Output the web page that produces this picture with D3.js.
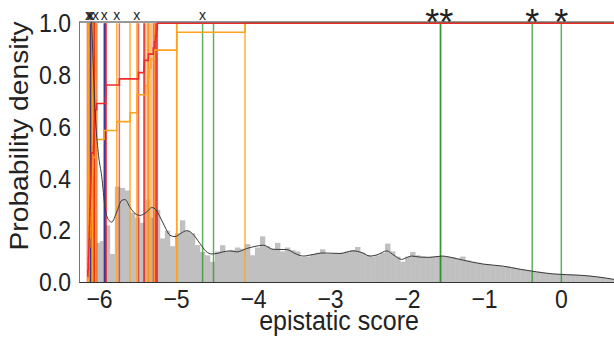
<!DOCTYPE html>
<html>
<head>
<meta charset="utf-8">
<script src="https://cdn.jsdelivr.net/npm/d3@7"></script>
<style>
  body { margin: 0; background: #fff; }
  svg { display: block; }
  text { font-family: "Liberation Sans", Arial, sans-serif; }
</style>
</head>
<body>
<div id="chart"></div>
<script>
// histogram of all epistatic scores (bin heights)
var binStart = -6.25;
var binWidth = 0.065;
var histHeights = [
  0, 0, 1.25, 0.153, 0.16, 0.22, 0.11, 0.37, 0.365, 0.355,
  0.27, 0.25, 0.23, 0.32, 0.25, 0.28, 0.17, 0.2, 0.14, 0.19,
  0.24, 0.2, 0.19, 0.144, 0.118, 0.105, 0.08, 0.12, 0.144, 0.12,
  0.125, 0.135, 0.13, 0.148, 0.105, 0.135, 0.178, 0.14, 0.13, 0.153,
  0.12, 0.135, 0.125, 0.12, 0.098, 0.1, 0.11, 0.115, 0.128, 0.11,
  0.112, 0.113, 0.115, 0.12, 0.125, 0.137, 0.115, 0.105, 0.1, 0.105,
  0.115, 0.15, 0.12, 0.1, 0.08, 0.1, 0.118, 0.105, 0.1, 0.098,
  0.1, 0.102, 0.102, 0.1, 0.097, 0.093, 0.1, 0.085, 0.08, 0.076,
  0.072, 0.07, 0.067, 0.065, 0.063, 0.062, 0.058, 0.053, 0.05, 0.047,
  0.043, 0.041, 0.038, 0.036, 0.034, 0.033, 0.032, 0.031, 0.03, 0.029,
  0.028, 0.027, 0.025, 0.022, 0.019, 0.016, 0.013
];

// density curve
var kdeX = [-6.136, -6.104, -6.078, -6.043, -6.006, -5.965, -5.922, -5.879, -5.835, -5.77,
  -5.705, -5.662, -5.597, -5.532, -5.468, -5.381, -5.316, -5.273, -5.208, -5.143,
  -5.078, -5.013, -4.935, -4.861, -4.792, -4.688, -4.61, -4.536, -4.468, -4.39,
  -4.299, -4.212, -4.082, -3.961, -3.866, -3.74, -3.562, -3.455, -3.351, -3.221,
  -3.087, -2.87, -2.701, -2.584, -2.481, -2.377, -2.264, -2.169, -2.069, -2.013,
  -1.939, -1.831, -1.701, -1.549, -1.416, -1.269, -1.009, -0.749, -0.532, -0.316,
  -0.1, 0.247, 0.464, 0.688];
var kdeY = [1.6, 1.1, 0.86, 0.62, 0.49, 0.41, 0.29, 0.243, 0.233, 0.272,
  0.317, 0.32, 0.29, 0.266, 0.259, 0.272, 0.289, 0.285, 0.253, 0.214,
  0.182, 0.177, 0.19, 0.2, 0.19, 0.15, 0.12, 0.11, 0.112, 0.118,
  0.122, 0.118, 0.131, 0.14, 0.144, 0.128, 0.127, 0.112, 0.102, 0.108,
  0.114, 0.112, 0.122, 0.115, 0.102, 0.108, 0.122, 0.105, 0.089, 0.095,
  0.102, 0.098, 0.097, 0.102, 0.096, 0.086, 0.071, 0.063, 0.051, 0.041,
  0.033, 0.028, 0.022, 0.012];

// scores of the highlighted groups
var redScores = [-6.15, -6.145, -6.14, -6.138, -6.135, -6.132, -6.13, -6.127, -6.125, -6.122,
  -6.12, -6.118, -6.115, -6.113, -6.11, -6.108, -6.106, -6.104, -6.102, -6.1, -6.098,
  -6.071, -6.068, -6.065, -6.062, -6.058, -6.056, -6.052,
  -6.03, -5.916, -5.912, -5.909, -5.736, -5.487, -5.416, -5.412, -5.36,
  -5.295, -5.279, -5.266, -5.253, -5.243];
var orangeScores = [-6.148, -6.14, -6.133, -6.128, -6.121, -6.116, -6.112, -6.107, -6.103, -6.099,
  -6.094, -6.09, -6.085, -6.081, -6.045, -6.043, -5.935, -5.77, -5.597, -5.506, -5.504,
  -5.394, -5.368, -5.351, -5.325, -5.282, -4.991, -4.989, -4.104];
var blueScores = [-6.11, -5.929];
var greenScores = [-4.655, -4.513, -1.568, -1.562, -0.374, 0.004];

var crossMarks = [-6.138, -6.122, -6.104, -6.045, -5.931, -5.77, -5.51, -4.655];
var starMarks = [-1.58, -0.374, 0.004];
var starLabels = ["**", "*", "*"];

var xTicks = [-6, -5, -4, -3, -2, -1, 0];
var yTicks = [0, 0.2, 0.4, 0.6, 0.8, 1.0];

var width = 614, height = 341;
var plotLeft = 79, plotRight = 614, plotTop = 23.3, plotBottom = 282.5;
var stretch = 1.13; // the picture's text is a little taller than wide

var svg = d3.select('#chart').append('svg')
  .attr('width', width)
  .attr('height', height);

var x = d3.scaleLinear().domain([-6.26, 0.688]).range([plotLeft, plotRight]);
var y = d3.scaleLinear().domain([0, 1]).range([plotBottom, plotTop]);

svg.append('clipPath').attr('id', 'plotclip')
  .append('rect').attr('x', plotLeft).attr('y', 22)
  .attr('width', plotRight - plotLeft).attr('height', plotBottom - 22);

var plot = svg.append('g').attr('clip-path', 'url(#plotclip)');

// histogram
plot.append('g').selectAll('rect')
  .data(histHeights)
  .enter().append('rect')
  .attr('x', function(d, i) { return x(binStart + i * binWidth); })
  .attr('width', function(d, i) { return x(binStart + (i + 1) * binWidth) - x(binStart + i * binWidth) + 0.4; })
  .attr('y', function(d) { return y(d); })
  .attr('height', function(d) { return y(0) - y(d); })
  .attr('fill', '#c0c0c0');

function vlines(scores, color, opacity) {
  plot.append('g').selectAll('line')
    .data(scores)
    .enter().append('line')
    .attr('x1', function(d) { return x(d); })
    .attr('x2', function(d) { return x(d); })
    .attr('y1', y(0))
    .attr('y2', y(1))
    .attr('stroke', color)
    .attr('stroke-opacity', opacity)
    .attr('stroke-width', 1.5);
}

vlines(redScores, '#e8151b', 0.65);
vlines(orangeScores, '#ffa21c', 0.85);
vlines(blueScores, '#2a2a9a', 0.9);
vlines(greenScores, '#1f8f1f', 0.7);

// cumulative step lines
function ecdf(scores, color) {
  var s = scores.slice().sort(d3.ascending);
  var pts = s.map(function(d, i) { return [d, (i + 1) / s.length]; });
  pts.push([x.domain()[1], 1]);
  plot.append('path')
    .datum(pts)
    .attr('fill', 'none')
    .attr('stroke', color)
    .attr('stroke-width', 1.6)
    .attr('d', d3.line()
      .x(function(d) { return x(d[0]); })
      .y(function(d) { return y(d[1]); })
      .curve(d3.curveStepAfter));
}
ecdf(orangeScores, '#ffa21c');
ecdf(redScores, '#ee2a2a');

// density
var kde = d3.zip(kdeX, kdeY);
plot.append('path')
  .datum(kde)
  .attr('fill', 'none')
  .attr('stroke', '#3a3a3a')
  .attr('stroke-width', 1)
  .attr('d', d3.line()
    .x(function(d) { return x(d[0]); })
    .y(function(d) { return y(d[1]); })
    .curve(d3.curveMonotoneX));

// spines
svg.append('line').attr('x1', plotLeft).attr('x2', plotRight).attr('y1', 22).attr('y2', 22)
  .attr('stroke', '#333').attr('stroke-width', 1);
svg.append('line').attr('x1', plotLeft).attr('x2', plotRight).attr('y1', plotBottom).attr('y2', plotBottom)
  .attr('stroke', '#333').attr('stroke-width', 1.2);
svg.append('line').attr('x1', plotLeft + 0.5).attr('x2', plotLeft + 0.5).attr('y1', 22).attr('y2', plotBottom)
  .attr('stroke', '#777').attr('stroke-width', 1);

// axes
var xAxis = svg.append('g')
  .attr('transform', 'translate(0,' + plotBottom + ')')
  .call(d3.axisBottom(x).tickValues(xTicks).tickSize(0).tickPadding(6).tickFormat(d3.format('d')));
xAxis.select('.domain').remove();
xAxis.selectAll('text')
  .attr('font-size', 23).attr('fill', '#222')
  .attr('font-family', '"Liberation Sans", Arial, sans-serif')
  .attr('transform', 'scale(1,' + stretch + ')');

var yAxis = svg.append('g')
  .attr('transform', 'translate(' + plotLeft + ',0)')
  .call(d3.axisLeft(y).tickValues(yTicks).tickSize(0).tickPadding(8).tickFormat(d3.format('.1f')));
yAxis.select('.domain').remove();
yAxis.selectAll('text')
  .attr('font-size', 23).attr('fill', '#222')
  .attr('font-family', '"Liberation Sans", Arial, sans-serif')
  .attr('transform', 'scale(1,' + stretch + ')');

svg.append('text')
  .attr('transform', 'translate(339,330) scale(1,' + stretch + ')')
  .attr('text-anchor', 'middle')
  .attr('font-size', 25).attr('fill', '#222')
  .text('epistatic score');

svg.append('text')
  .attr('transform', 'translate(28,136) rotate(-90) scale(' + stretch + ',1)')
  .attr('text-anchor', 'middle')
  .attr('font-size', 25).attr('fill', '#222')
  .text('Probability density');

// markers above the top
svg.append('g').selectAll('text')
  .data(crossMarks)
  .enter().append('text')
  .attr('x', function(d) { return x(d); })
  .attr('y', 19.5)
  .attr('text-anchor', 'middle')
  .attr('font-size', 14).attr('fill', '#222')
  .text('x');

svg.append('g').selectAll('text')
  .data(starMarks)
  .enter().append('text')
  .attr('x', function(d) { return x(d); })
  .attr('y', 35)
  .attr('text-anchor', 'middle')
  .attr('font-size', 36).attr('fill', '#222')
  .text(function(d, i) { return starLabels[i]; });
</script>
</body>
</html>
